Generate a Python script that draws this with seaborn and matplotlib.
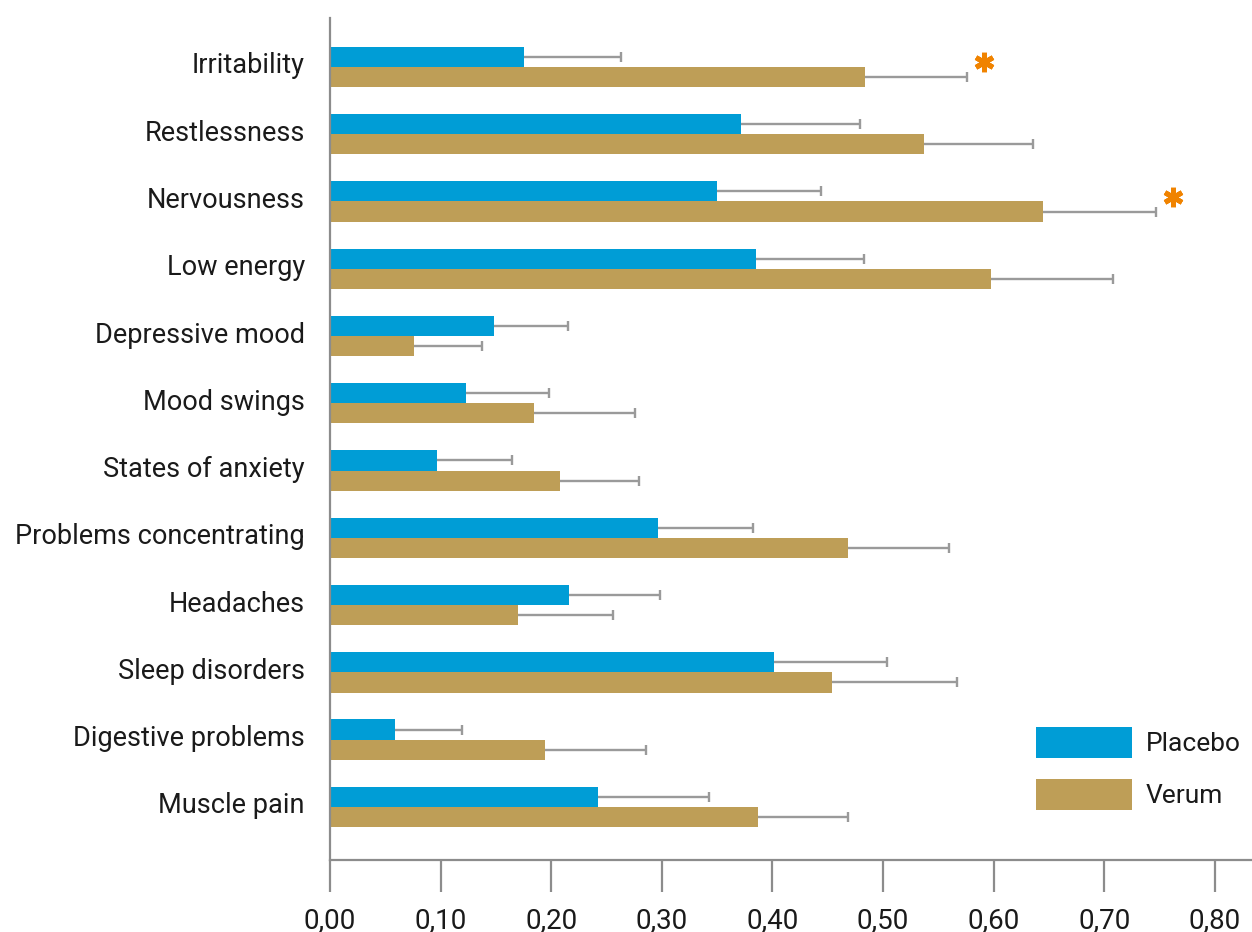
import matplotlib
matplotlib.use("Agg")
import matplotlib.pyplot as plt
import matplotlib.ticker as mticker
import matplotlib.transforms as mtransforms
from matplotlib.patches import Patch
import numpy as np
import pandas as pd
import seaborn as sns

# Symptom scores (mean and upper error limit) per group
symptoms = ["Irritability", "Restlessness", "Nervousness", "Low energy",
            "Depressive mood", "Mood swings", "States of anxiety",
            "Problems concentrating", "Headaches", "Sleep disorders",
            "Digestive problems", "Muscle pain"]
placebo = [0.175, 0.372, 0.350, 0.385, 0.148, 0.123, 0.097, 0.297, 0.216, 0.401, 0.059, 0.242]
placebo_upper = [0.263, 0.479, 0.444, 0.483, 0.215, 0.198, 0.165, 0.382, 0.298, 0.504, 0.119, 0.343]
verum = [0.484, 0.537, 0.645, 0.598, 0.076, 0.184, 0.208, 0.468, 0.170, 0.454, 0.194, 0.387]
verum_upper = [0.576, 0.636, 0.747, 0.708, 0.137, 0.276, 0.279, 0.560, 0.256, 0.567, 0.286, 0.468]
significant = ["Irritability", "Nervousness"]
groups = ["Placebo", "Verum"]
xticks = [0.0, 0.1, 0.2, 0.3, 0.4, 0.5, 0.6, 0.7, 0.8]

BLUE = "#009DD6"
GOLD = "#BE9E57"
GREY = "#8C8C8C"
ERR = "#9A9A9A"
STAR = "#F08300"
TEXT = "#1a1a1a"

df = pd.DataFrame({
    "symptom": symptoms * 2,
    "group": [groups[0]] * len(symptoms) + [groups[1]] * len(symptoms),
    "score": placebo + verum,
})

sns.set_style("white")
plt.rcParams["font.family"] = ["Roboto", "DejaVu Sans"]

fig = plt.figure(figsize=(12.52, 9.32), dpi=100)
ax = fig.add_axes([330 / 1252, 1 - 860 / 932, 1 - 330 / 1252, (860 - 18) / 932])

sns.barplot(data=df, y="symptom", x="score", hue="group", orient="h",
            order=symptoms, hue_order=groups, palette=[BLUE, GOLD],
            width=0.6, gap=0, errorbar=None, ax=ax, legend=False,
            saturation=1, linewidth=0, edgecolor="none")

# One-sided error bars running from the bar end to the upper limit
for cont, means, upper in zip(ax.containers, [placebo, verum], [placebo_upper, verum_upper]):
    ys = np.array([b.get_y() + b.get_height() / 2 for b in cont])
    ax.hlines(ys, means, upper, colors=ERR, linewidth=1.7, zorder=3)
    ax.plot(upper, ys, linestyle="none", marker="|", markersize=7,
            markeredgewidth=1.7, color=ERR, zorder=3)

# Significance markers next to the verum error bars
verum_bars = ax.containers[1]
for name in significant:
    i = symptoms.index(name)
    b = verum_bars[i]
    yc = b.get_y() + b.get_height() / 2
    ax.plot(verum_upper[i] + 0.015, yc - 0.22, marker=(6, 2, 0), markersize=14,
            markeredgewidth=3.6, color=STAR, markeredgecolor=STAR,
            linestyle="none", zorder=4, clip_on=False)

ax.set_xlim(0, 0.8336)
ax.set_ylim(11.79, -0.728)
ax.set_xticks(xticks)
ax.xaxis.set_major_formatter(mticker.FuncFormatter(lambda v, p: f"{v:.2f}".replace(".", ",")))
ax.set_xlabel("")
ax.set_ylabel("")

for s in ["top", "right"]:
    ax.spines[s].set_visible(False)
for s in ["left", "bottom"]:
    ax.spines[s].set_color(GREY)
    ax.spines[s].set_linewidth(1.6)

ax.tick_params(axis="x", length=23, width=1.6, color=GREY, pad=11,
               labelsize=20, labelcolor=TEXT, direction="out", bottom=True)
ax.tick_params(axis="y", length=0, pad=18, labelsize=19.5, labelcolor=TEXT)

# Lift the category labels slightly
lift = mtransforms.ScaledTranslation(0, 4 / 100, fig.dpi_scale_trans)
for lbl in ax.get_yticklabels():
    lbl.set_transform(lbl.get_transform() + lift)

handles = [Patch(facecolor=BLUE, edgecolor="none", label=groups[0]),
           Patch(facecolor=GOLD, edgecolor="none", label=groups[1])]
fs = 19
fs_px = fs * 100 / 72
fig.legend(handles=handles, loc="upper left",
           bbox_to_anchor=(1036 / 1252, 1 - 727 / 932),
           frameon=False, fontsize=fs, handlelength=96 / fs_px,
           handleheight=1.45, labelspacing=0.78,
           handletextpad=14 / fs_px, borderpad=0, borderaxespad=0,
           labelcolor=TEXT)

fig.savefig("out.png", dpi=100)
